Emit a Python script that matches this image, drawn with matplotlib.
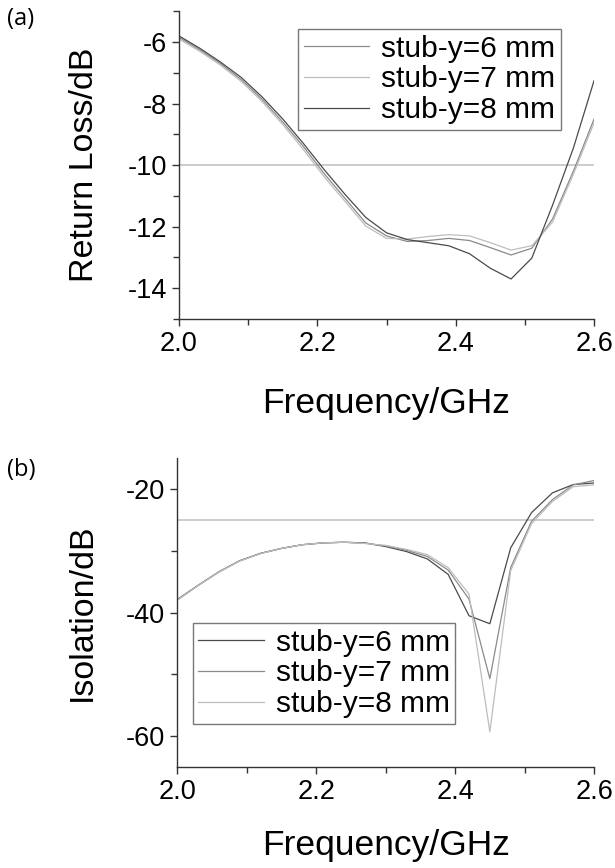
import matplotlib
matplotlib.use("Agg")
import matplotlib.pyplot as plt
import numpy as np

plt.rcParams['font.family'] = ['Liberation Sans', 'DejaVu Sans']

freq = [2.00, 2.03, 2.06, 2.09, 2.12, 2.15, 2.18, 2.21, 2.24, 2.27, 2.30,
        2.33, 2.36, 2.39, 2.42, 2.45, 2.48, 2.51, 2.54, 2.57, 2.60]

# (a) return loss
rl_6 = [-5.85, -6.25, -6.70, -7.22, -7.86, -8.60, -9.40, -10.28, -11.08, -11.88, -12.30,
        -12.48, -12.45, -12.38, -12.45, -12.68, -12.92, -12.70, -11.75, -10.20, -8.50]
rl_7 = [-5.90, -6.30, -6.75, -7.28, -7.93, -8.68, -9.50, -10.38, -11.18, -11.98, -12.38,
        -12.40, -12.32, -12.26, -12.30, -12.52, -12.76, -12.62, -11.85, -10.30, -8.62]
rl_8 = [-5.80, -6.20, -6.65, -7.15, -7.78, -8.50, -9.30, -10.15, -10.95, -11.70, -12.20,
        -12.42, -12.52, -12.62, -12.88, -13.35, -13.70, -13.02, -11.30, -9.45, -7.25]

# (b) isolation
iso_6 = [-37.9, -35.6, -33.4, -31.6, -30.4, -29.6, -29.0, -28.7, -28.6, -28.7, -29.3,
         -30.1, -31.3, -33.8, -40.5, -41.8, -29.5, -23.8, -20.6, -19.25, -19.0]
iso_7 = [-37.95, -35.6, -33.4, -31.6, -30.4, -29.6, -29.0, -28.7, -28.6, -28.75, -29.2,
         -29.9, -30.9, -33.1, -37.8, -50.7, -32.7, -25.2, -21.7, -19.3, -18.6]
iso_8 = [-38.0, -35.65, -33.45, -31.65, -30.45, -29.6, -29.0, -28.7, -28.6, -28.8, -29.1,
         -29.75, -30.6, -32.7, -37.0, -59.3, -33.2, -25.6, -22.0, -19.6, -19.3]

labels = ['stub-y=6 mm', 'stub-y=7 mm', 'stub-y=8 mm']

dark, mid, light = '#4a4a4a', '#8a8a8a', '#bdbdbd'

fig = plt.figure(figsize=(6.15, 8.68), dpi=100)
ax1 = fig.add_axes([0.291, 0.6325, 0.675, 0.3545])
ax2 = fig.add_axes([0.288, 0.1164, 0.678, 0.3556])


def style(ax):
    for s in ['top', 'right']:
        ax.spines[s].set_visible(False)
    for s in ['left', 'bottom']:
        ax.spines[s].set_color('#333333')
        ax.spines[s].set_linewidth(1.0)
    ax.tick_params(which='major', direction='out', length=5, width=1,
                   labelsize=19.5, color='#333333')
    ax.tick_params(which='minor', direction='out', length=4, width=1, color='#333333')
    ax.set_xlim(2.0, 2.6)
    ax.set_xticks([2.0, 2.2, 2.4, 2.6])
    ax.set_xticklabels(['2.0', '2.2', '2.4', '2.6'])
    ax.set_xticks([2.1, 2.3, 2.5], minor=True)


def legend(ax, **kw):
    leg = ax.legend(borderaxespad=0, fontsize=21.5, frameon=True, fancybox=False,
                    framealpha=1, edgecolor='#777777', handlelength=2.2,
                    handletextpad=0.4, labelspacing=0.1, borderpad=0.18, **kw)
    leg.get_frame().set_linewidth(1.0)
    return leg


# ---- (a)
style(ax1)
ax1.plot(freq, rl_6, color=mid, lw=0.9, label=labels[0])
ax1.plot(freq, rl_7, color=light, lw=0.9, label=labels[1])
ax1.plot(freq, rl_8, color=dark, lw=0.9, label=labels[2])
ax1.axhline(-10, color='#c4c4c4', lw=1.2, zorder=0)
ax1.set_ylim(-15, -5)
ax1.set_yticks([-14, -12, -10, -8, -6])
ax1.set_yticklabels(['-14', '-12', '-10', '-8', '-6'])
ax1.set_yticks([-15, -13, -11, -9, -7, -5], minor=True)
ax1.set_ylabel('Return Loss/dB', fontsize=24.5)
ax1.yaxis.set_label_coords(-0.19, 0.5)
ax1.set_xlabel('Frequency/GHz', fontsize=25.5, va='top')
ax1.xaxis.set_label_coords(0.5, -0.22)
legend(ax1, loc='upper right', bbox_to_anchor=(0.92, 0.942))

# ---- (b)
style(ax2)
ax2.plot(freq, iso_6, color=dark, lw=0.9, label=labels[0])
ax2.plot(freq, iso_7, color=mid, lw=0.9, label=labels[1])
ax2.plot(freq, iso_8, color=light, lw=0.9, label=labels[2])
ax2.axhline(-25, color='#c4c4c4', lw=1.2, zorder=0)
ax2.set_ylim(-65, -15)
ax2.set_yticks([-60, -40, -20])
ax2.set_yticklabels(['-60', '-40', '-20'])
ax2.set_yticks([-50, -30], minor=True)
ax2.set_ylabel('Isolation/dB', fontsize=24.5)
ax2.yaxis.set_label_coords(-0.19, 0.5)
ax2.set_xlabel('Frequency/GHz', fontsize=25.5, va='top')
ax2.xaxis.set_label_coords(0.5, -0.2)
legend(ax2, loc='upper left', bbox_to_anchor=(0.038, 0.466))

fig.text(0.012, 0.978, '(a)', fontsize=17, family=['Open Sans', 'DejaVu Sans'], va='center')
fig.text(0.012, 0.458, '(b)', fontsize=17, family=['Open Sans', 'DejaVu Sans'], va='center')

fig.savefig('out.png', dpi=100)
